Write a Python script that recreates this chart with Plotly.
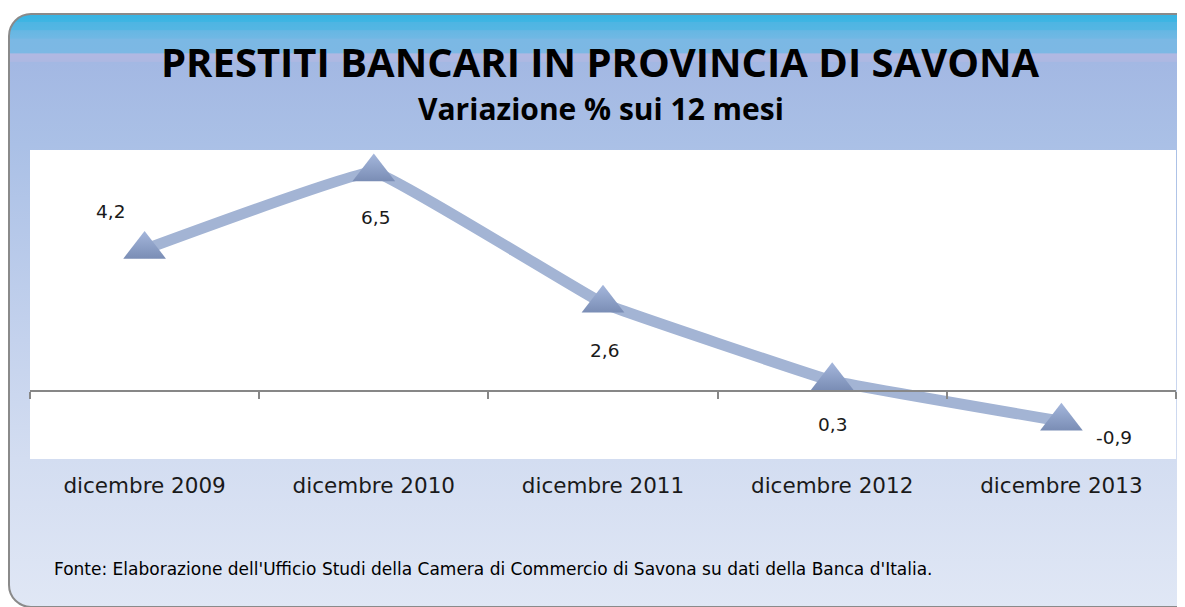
"""Prestiti bancari in provincia di Savona - variazione % sui 12 mesi"""
import base64
import plotly.graph_objects as go

# data
categories = ["dicembre 2009", "dicembre 2010", "dicembre 2011", "dicembre 2012", "dicembre 2013"]
values = [4.2, 6.5, 2.6, 0.3, -0.9]

title_text = "PRESTITI BANCARI IN PROVINCIA DI SAVONA"
subtitle_text = "Variazione % sui 12 mesi"
source_text = ("Fonte: Elaborazione dell'Ufficio Studi della Camera di Commercio "
               "di Savona su dati della Banca d'Italia.")

# label offsets (px) relative to each point: (xshift, yshift)
label_offsets = [(-34, 38), (2, -46), (1, -47), (0, -44), (53, -16)]

# the page body has an 8px margin, so the figure is drawn 8px smaller
OFF = 8
W, H = 1185 - OFF, 607 - OFF
ML, MR, MT, MB = 30 - OFF, 9, 150 - OFF, 148
PW, PH = W - ML - MR, H - MT - MB
y_lo, y_hi = -2.02, 7.15

TITLE_FONT = "Open Sans"
FONT = "DejaVu Sans"


def px_x(px):
    # page pixel -> paper x
    return (px - OFF - ML) / PW


def px_y(py):
    # page pixel -> paper y
    return (H - MB - (py - OFF)) / PH


# rounded frame with vertical gradient, drawn as an svg background image
svg = f"""<svg xmlns="http://www.w3.org/2000/svg" width="{W}" height="{H}" viewBox="0 0 {W} {H}" preserveAspectRatio="none">
<defs><linearGradient id="g" x1="0" y1="0" x2="0" y2="1" gradientUnits="objectBoundingBox">
<stop offset="0" stop-color="#37b4e3"/>
<stop offset="0.013" stop-color="#3fb5e3"/>
<stop offset="0.014" stop-color="#4eb5e3"/>
<stop offset="0.027" stop-color="#55b6e3"/>
<stop offset="0.028" stop-color="#66b7e3"/>
<stop offset="0.041" stop-color="#70b8e4"/>
<stop offset="0.042" stop-color="#7bb8e4"/>
<stop offset="0.066" stop-color="#7cb8e4"/>
<stop offset="0.067" stop-color="#b1b8e2"/>
<stop offset="0.080" stop-color="#adb8e2"/>
<stop offset="0.081" stop-color="#a3b8e3"/>
<stop offset="0.22" stop-color="#aac0e6"/>
<stop offset="0.55" stop-color="#c4d2ed"/>
<stop offset="0.75" stop-color="#d3ddf1"/>
<stop offset="1" stop-color="#e0e7f5"/>
</linearGradient></defs>
<rect x="{9 - OFF}" y="{14 - OFF}" width="1220" height="{607 - 14}" rx="22" ry="22" fill="url(#g)" stroke="#8a8a8a" stroke-width="2"/>
</svg>"""
bg_src = "data:image/svg+xml;base64," + base64.b64encode(svg.encode()).decode()

fig = go.Figure()

fig.add_trace(go.Scatter(
    x=categories,
    y=values,
    mode="lines+markers",
    line=dict(color="#a3b4d4", width=11, shape="spline", smoothing=0.2),
    marker=dict(
        symbol="triangle-up",
        size=37,
        color="#a5b7dc",
        gradient=dict(type="vertical", color="#7a8db5"),
        line=dict(width=0),
    ),
    hoverinfo="skip",
    showlegend=False,
))

# invisible trace carrying the zero-line axis
fig.add_trace(go.Scatter(
    x=categories, y=values, xaxis="x2", yaxis="y",
    mode="lines", line=dict(width=0), opacity=0,
    hoverinfo="skip", showlegend=False,
))

annotations = []
for cat, v, (dx, dy) in zip(categories, values, label_offsets):
    annotations.append(dict(
        x=cat, y=v, xref="x", yref="y",
        text=f"{v:.1f}".replace(".", ","),
        showarrow=False, xshift=dx, yshift=dy,
        font=dict(family=FONT, size=18.5, color="#1a1a1a"),
    ))

annotations += [
    dict(text=f"<b>{title_text}</b>", x=px_x(600), y=px_y(61),
         xref="paper", yref="paper", showarrow=False, xanchor="center", yanchor="middle",
         font=dict(family=TITLE_FONT, size=40, color="#000000")),
    dict(text=f"<b>{subtitle_text}</b>", x=px_x(601), y=px_y(108),
         xref="paper", yref="paper", showarrow=False, xanchor="center", yanchor="middle",
         font=dict(family=TITLE_FONT, size=30, color="#000000")),
    dict(text=source_text, x=px_x(52), y=px_y(569),
         xref="paper", yref="paper", showarrow=False, xanchor="left", yanchor="middle",
         font=dict(family=FONT, size=17, color="#000000")),
]

fig.update_layout(
    width=W,
    height=H,
    margin=dict(l=ML, r=MR, t=MT, b=MB, pad=0),
    paper_bgcolor="white",
    plot_bgcolor="rgba(0,0,0,0)",
    font=dict(family=FONT, color="#1a1a1a"),
    xaxis=dict(
        type="category", range=[-0.5, 4.5],
        showline=False, showgrid=False, zeroline=False, ticks="",
        tickfont=dict(family=FONT, size=21.5, color="#1a1a1a"),
        ticklabelstandoff=11,
    ),
    xaxis2=dict(
        type="category", range=[-0.5, 4.5], overlaying="x",
        anchor="free", position=(0 - y_lo) / (y_hi - y_lo),
        showline=True, linecolor="#878787", linewidth=2,
        ticks="outside", tickson="boundaries", ticklen=7,
        tickcolor="#878787", tickwidth=2,
        showticklabels=False, showgrid=False, zeroline=False,
    ),
    yaxis=dict(range=[y_lo, y_hi], visible=False, showgrid=False, zeroline=False),
    images=[dict(
        source=bg_src, xref="paper", yref="paper",
        x=-ML / PW, y=1 + MT / PH, sizex=W / PW, sizey=H / PH,
        xanchor="left", yanchor="top", sizing="stretch", layer="below",
    )],
    shapes=[dict(
        type="rect", xref="paper", yref="paper", x0=0, x1=1, y0=0, y1=1,
        fillcolor="white", line=dict(width=0), layer="below",
    )],
    annotations=annotations,
)

fig.write_html("out.html")
